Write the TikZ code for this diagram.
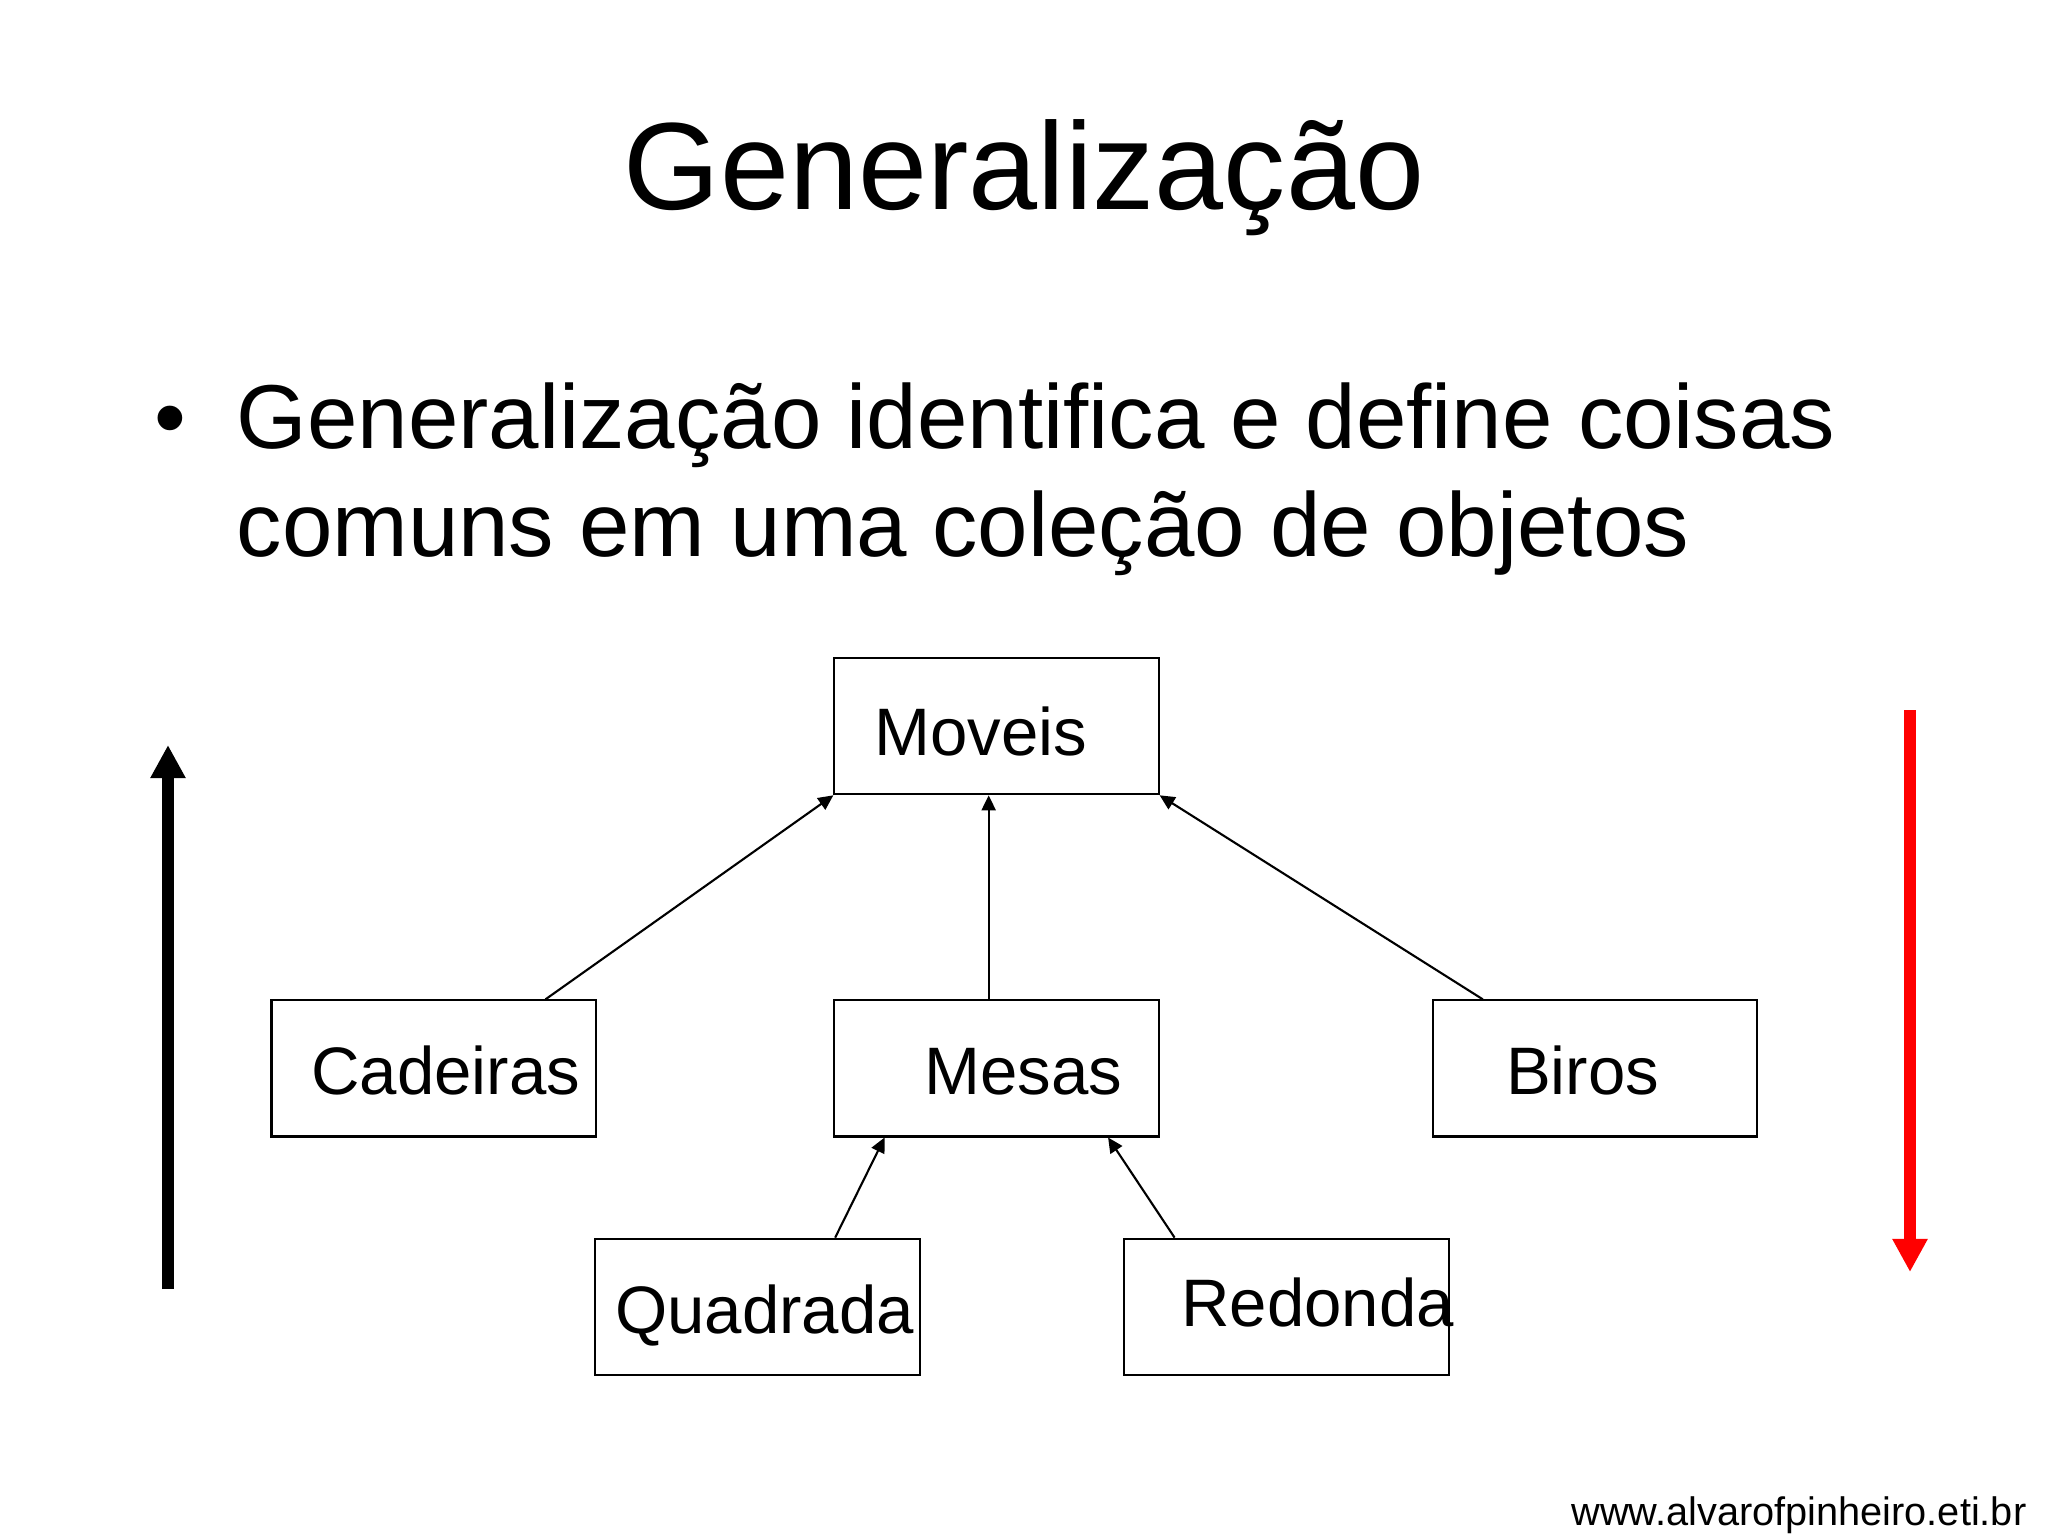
\documentclass[tikz,border=0pt]{standalone}
\usepackage{fontspec}
\setmainfont{Liberation Sans}
\usetikzlibrary{arrows.meta,calc}
\begin{document}
\begin{tikzpicture}[x=0.01cm,y=-0.01cm,
  box/.style={draw, line width=0.6pt, minimum width=3.24cm, minimum height=1.36cm, inner sep=0pt},
  tag/.style={anchor=base, inner sep=0pt, font=\fontsize{19.1}{23}\selectfont},
  bullettext/.style={anchor=base west, inner sep=0pt, font=\fontsize{25.8}{31}\selectfont},
  link/.style={-{Triangle[width=0.14cm,length=0.15cm]}, line width=0.6pt},
  bigarrow/.style={-{Triangle[width=0.33cm,length=0.33cm]}, line width=0.12cm}]
\useasboundingbox (0,0) rectangle (2048,1536);

\node[anchor=base, inner sep=0pt, font=\fontsize{35.3}{42}\selectfont] (title) at (1024,209) {Generalização};

\node[anchor=base, inner sep=0pt, font=\fontsize{25.8}{31}\selectfont] (dot) at (170,448) {•};
\node[bullettext] (line1) at (236,448) {Generalização identifica e define coisas};
\node[bullettext] (line2) at (236,556) {comuns em uma coleção de objetos};

\node[box] (moveis) at (996.5,726.2) {};
\node[box] (cadeiras) at (433.6,1068.4) {};
\node[box] (mesas) at (996.5,1068.4) {};
\node[box] (biros) at (1594.7,1068.4) {};
\node[box] (quadrada) at (757.5,1306.7) {};
\node[box] (redonda) at (1286.5,1306.7) {};

\node[tag] (moveis-t) at ([xshift=-0.16cm,yshift=-0.29cm]moveis.center) {Moveis};
\node[tag] (cadeiras-t) at ([xshift=0.12cm,yshift=-0.26cm]cadeiras.center) {Cadeiras};
\node[tag] (mesas-t) at ([xshift=0.27cm,yshift=-0.26cm]mesas.center) {Mesas};
\node[tag] (biros-t) at ([xshift=-0.12cm,yshift=-0.26cm]biros.center) {Biros};
\node[tag] (quadrada-t) at ([xshift=0.07cm,yshift=-0.27cm]quadrada.center) {Quadrada};
\node[tag] (redonda-t) at ([xshift=0.31cm,yshift=-0.20cm]redonda.center) {Redonda};

\draw[link] ($(cadeiras.north west)!0.843!(cadeiras.north east)$) -- (moveis.south west);
\draw[link] ($(mesas.north west)!0.476!(mesas.north east)$) -- ($(moveis.south west)!0.476!(moveis.south east)$);
\draw[link] ($(biros.north west)!0.157!(biros.north east)$) -- (moveis.south east);
\draw[link] ($(quadrada.north west)!0.738!(quadrada.north east)$) -- ($(mesas.south west)!0.157!(mesas.south east)$);
\draw[link] ($(redonda.north west)!0.157!(redonda.north east)$) -- ($(mesas.south west)!0.842!(mesas.south east)$);

\coordinate (up-a) at (168,1289);
\coordinate (up-b) at (168,745);
\draw[bigarrow, black] (up-a) -- (up-b);

\coordinate (down-a) at (1910,710);
\coordinate (down-b) at (1910,1272);
\draw[bigarrow, red] (down-a) -- (down-b);

\node[anchor=base east, inner sep=0pt, font=\fontsize{11.3}{14}\selectfont] (site) at (2027,1525) {www.alvarofpinheiro.eti.br};
\end{tikzpicture}
\end{document}
